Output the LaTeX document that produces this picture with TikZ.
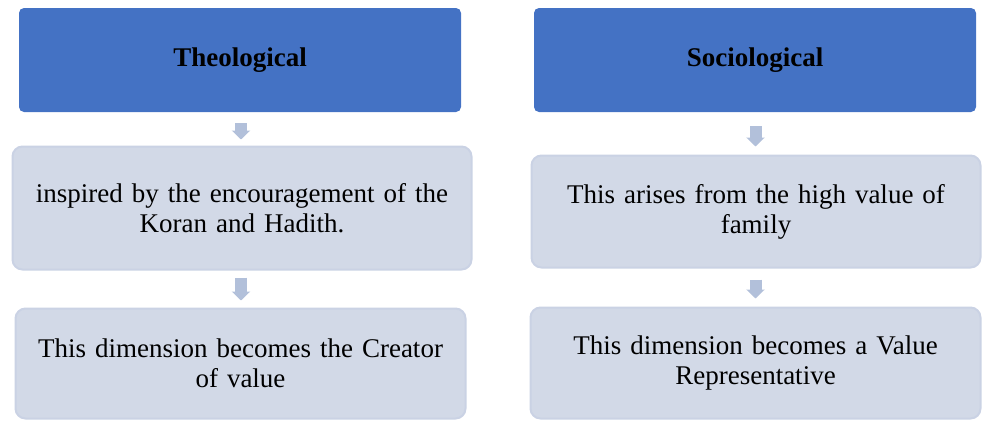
\documentclass[tikz,border=0pt]{standalone}
\usepackage{fontspec}
\setmainfont{Liberation Serif}
\usetikzlibrary{arrows.meta,calc}
\definecolor{hdrblue}{HTML}{4472C4}
\definecolor{lightfill}{HTML}{D2D9E7}
\definecolor{lightedge}{HTML}{CAD2E4}
\definecolor{arrowcol}{HTML}{B2C0DA}
\tikzset{
  hdrbox/.style={fill=hdrblue, draw=none, rounded corners=5pt, inner sep=0pt,
    font=\fontsize{27}{30}\selectfont\bfseries, text=black},
  lightbox/.style={fill=lightfill, draw=lightedge, line width=2pt, rounded corners=10pt,
    inner sep=0pt, align=center, font=\fontsize{27}{30}\selectfont, text=black},
  blockarrow/.style={draw=arrowcol, line width=12pt, line cap=butt,
    -{Triangle[width=18pt,length=9pt]}}
}
\begin{document}
\begin{tikzpicture}[x=1pt,y=-1pt]
\useasboundingbox (0,0) rectangle (986,421);
% left column
\node[hdrbox, minimum width=442pt, minimum height=104pt] (tb) at (240,60) {Theological};
\node[lightbox, minimum width=459pt, minimum height=123pt, text width=455pt] (t1) at (242,208)
  {inspired by the encouragement of the\\Koran and Hadith.};
\node[lightbox, minimum width=450pt, minimum height=110pt, text width=445pt] (t2) at (240.5,363.5)
  {This dimension becomes the Creator\\of value};
\draw[blockarrow] ($(tb.south)+(1,11)$) -- ($(t1.north)+(-1,-6)$);
\draw[blockarrow] ($(t1.south)+(-1,7)$) -- ($(t2.north)+(0.5,-7)$);
% right column
\node[hdrbox, minimum width=442pt, minimum height=104pt] (sb) at (755,60) {Sociological};
\node[lightbox, minimum width=449pt, minimum height=112pt, text width=445pt] (s1) at (756,211.5)
  {This arises from the high value of\\family};
\node[lightbox, minimum width=450pt, minimum height=111pt, text width=445pt] (s2) at (755.5,363)
  {This dimension becomes a Value\\Representative};
\draw[blockarrow] ($(sb.south)+(0.5,14)$) -- ($(s1.north)+(-0.5,-8)$);
\draw[blockarrow] ($(s1.south)+(-0.5,11)$) -- ($(s2.north)+(0,-8)$);
\end{tikzpicture}
\end{document}
